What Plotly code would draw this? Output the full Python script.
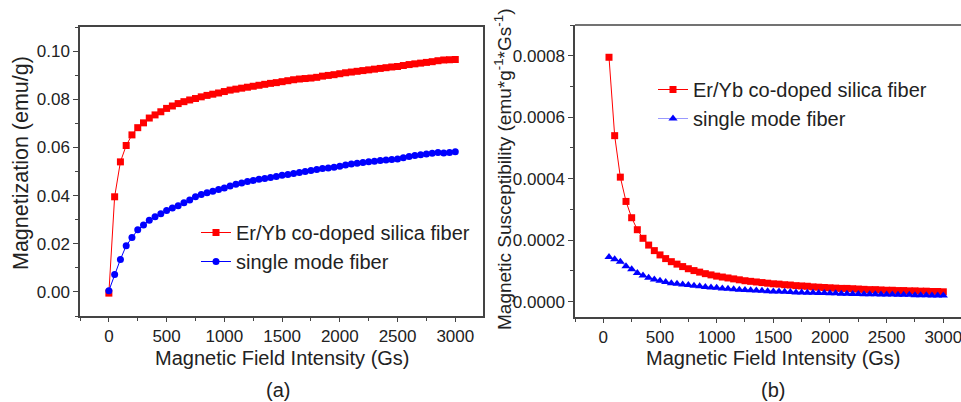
import plotly.graph_objects as go

# ---------------- data ----------------
field_a = list(range(0, 3001, 50))
mag_er = [-0.0005, 0.0395, 0.0540, 0.0608, 0.0652, 0.0682, 0.0702, 0.0722, 0.0735, 0.0748,
          0.0762, 0.0772, 0.0782, 0.0790, 0.0797, 0.0803, 0.0810, 0.0816, 0.0821, 0.0826,
          0.0832, 0.0838, 0.0842, 0.0846, 0.0850, 0.0854, 0.0858, 0.0862, 0.0866, 0.0869,
          0.0873, 0.0877, 0.0881, 0.0884, 0.0886, 0.0888, 0.0891, 0.0896, 0.0899, 0.0902,
          0.0906, 0.0910, 0.0913, 0.0916, 0.0919, 0.0922, 0.0925, 0.0928, 0.0931, 0.0934,
          0.0936, 0.0940, 0.0944, 0.0947, 0.0950, 0.0953, 0.0956, 0.0960, 0.0963, 0.0964,
          0.0965]
mag_smf = [0.0005, 0.0072, 0.0135, 0.0192, 0.0226, 0.0258, 0.0278, 0.0298, 0.0312, 0.0325,
           0.0338, 0.0348, 0.0358, 0.0370, 0.0382, 0.0395, 0.0405, 0.0412, 0.0418, 0.0425,
           0.0432, 0.0440, 0.0447, 0.0452, 0.0458, 0.0463, 0.0468, 0.0471, 0.0475, 0.0479,
           0.0484, 0.0488, 0.0492, 0.0496, 0.0500, 0.0504, 0.0508, 0.0512, 0.0515, 0.0518,
           0.0522, 0.0527, 0.0531, 0.0534, 0.0537, 0.0540, 0.0543, 0.0546, 0.0548, 0.0550,
           0.0552, 0.0557, 0.0562, 0.0566, 0.0570, 0.0573, 0.0576, 0.0579, 0.0577, 0.0579,
           0.0582]

field_b = list(range(50, 3001, 50))
sus_er = [7.95e-4, 5.40e-4, 4.05e-4, 3.26e-4, 2.73e-4, 2.34e-4, 2.06e-4, 1.84e-4, 1.66e-4, 1.52e-4,
          1.40e-4, 1.30e-4, 1.22e-4, 1.14e-4, 1.07e-4, 1.01e-4, 0.96e-4, 0.91e-4, 0.87e-4, 0.83e-4,
          0.80e-4, 0.77e-4, 0.74e-4, 0.71e-4, 0.68e-4, 0.66e-4, 0.64e-4, 0.62e-4, 0.60e-4, 0.58e-4,
          0.57e-4, 0.55e-4, 0.54e-4, 0.52e-4, 0.51e-4, 0.50e-4, 0.48e-4, 0.47e-4, 0.46e-4, 0.45e-4,
          0.44e-4, 0.43e-4, 0.43e-4, 0.42e-4, 0.41e-4, 0.40e-4, 0.39e-4, 0.39e-4, 0.38e-4, 0.37e-4,
          0.37e-4, 0.36e-4, 0.36e-4, 0.35e-4, 0.35e-4, 0.34e-4, 0.34e-4, 0.33e-4, 0.33e-4, 0.32e-4]
sus_smf = [1.45e-4, 1.38e-4, 1.30e-4, 1.15e-4, 1.05e-4, 0.93e-4, 0.85e-4, 0.78e-4, 0.72e-4, 0.68e-4,
           0.64e-4, 0.60e-4, 0.58e-4, 0.56e-4, 0.54e-4, 0.52e-4, 0.50e-4, 0.48e-4, 0.46e-4, 0.45e-4,
           0.43e-4, 0.42e-4, 0.40e-4, 0.39e-4, 0.38e-4, 0.37e-4, 0.36e-4, 0.35e-4, 0.34e-4, 0.33e-4,
           0.33e-4, 0.32e-4, 0.31e-4, 0.30e-4, 0.30e-4, 0.29e-4, 0.29e-4, 0.28e-4, 0.28e-4, 0.27e-4,
           0.27e-4, 0.26e-4, 0.26e-4, 0.25e-4, 0.25e-4, 0.24e-4, 0.24e-4, 0.24e-4, 0.23e-4, 0.23e-4,
           0.23e-4, 0.22e-4, 0.22e-4, 0.22e-4, 0.21e-4, 0.21e-4, 0.21e-4, 0.20e-4, 0.20e-4, 0.20e-4]

name_er = "Er/Yb co-doped silica fiber"
name_smf = "single mode fiber"
x_title = "Magnetic Field Intensity (Gs)"
y_title_a = "Magnetization (emu/g)"
y_title_b = "Magnetic Susceptibility (emu*g<sup>-1</sup>*Gs<sup>-1</sup>)"
x_ticks = [0, 500, 1000, 1500, 2000, 2500, 3000]

# ---------------- figure ----------------
W, H = 961, 402
FONT = "Liberation Sans, Arial, sans-serif"
RED = "#ff0000"
BLUE = "#0000ff"

fig = go.Figure()
fig.add_trace(go.Scatter(x=field_a, y=mag_er, name=name_er, mode="lines+markers",
                         line=dict(color=RED, width=1),
                         marker=dict(symbol="square", size=7, color=RED),
                         xaxis="x", yaxis="y", legend="legend"))
fig.add_trace(go.Scatter(x=field_a, y=mag_smf, name=name_smf, mode="lines+markers",
                         line=dict(color=BLUE, width=1),
                         marker=dict(symbol="circle", size=7, color=BLUE),
                         xaxis="x", yaxis="y", legend="legend"))
fig.add_trace(go.Scatter(x=field_b, y=sus_er, name=name_er, mode="lines+markers",
                         line=dict(color=RED, width=1),
                         marker=dict(symbol="square", size=7, color=RED),
                         xaxis="x2", yaxis="y2", legend="legend2"))
fig.add_trace(go.Scatter(x=field_b, y=sus_smf, name=name_smf, mode="lines+markers",
                         line=dict(color="#9999ff", width=1),
                         marker=dict(symbol="triangle-up", size=8, color=BLUE),
                         xaxis="x2", yaxis="y2", legend="legend2"))

def px(x):
    return x / W

def py(y):
    return 1 - y / H

axis_common = dict(
    showgrid=False, zeroline=False, showline=True, linecolor="#444", linewidth=1.5,
    ticks="outside", tickwidth=1.2, tickcolor="#444",
    tickfont=dict(family=FONT, size=17, color="#222"),
    ticklabeloverflow="allow",
)
minor_x = dict(ticks="outside", ticklen=3, tickcolor="#444", dtick=250, tick0=-250)

fig.update_layout(
    width=W, height=H,
    margin=dict(l=0, r=0, t=0, b=0),
    paper_bgcolor="white", plot_bgcolor="white",
    font=dict(family=FONT, color="#222"),
    xaxis=dict(domain=[px(80), px(483)], range=[-250, 3240], anchor="y", ticklen=4,
               tickvals=x_ticks, mirror=True, minor=minor_x, **axis_common),
    yaxis=dict(domain=[py(316), py(27)], range=[-0.01, 0.11], anchor="x", ticklen=5,
               dtick=0.02, tick0=0, tickformat=".2f", mirror=True,
               minor=dict(ticks="outside", ticklen=3, tickcolor="#444", dtick=0.01),
               **axis_common),
    xaxis2=dict(domain=[px(575), 1.0], range=[-250, 3156], anchor="y2", ticklen=4,
                tickvals=x_ticks, mirror=False, minor=minor_x, **axis_common),
    yaxis2=dict(domain=[py(317), py(25)], range=[-0.00005, 0.0009], anchor="x2", ticklen=5,
                dtick=0.0002, tick0=0, tickformat=".4f", mirror=False,
                minor=dict(ticks="outside", ticklen=3, tickcolor="#444", dtick=0.0001),
                **axis_common),
    legend=dict(x=px(196), y=py(213), xanchor="left", yanchor="top",
                bgcolor="rgba(0,0,0,0)", font=dict(family=FONT, size=20, color="#222"),
                itemwidth=30, tracegroupgap=0),
    legend2=dict(x=px(653), y=py(70), xanchor="left", yanchor="top",
                 bgcolor="rgba(0,0,0,0)", font=dict(family=FONT, size=20, color="#222"),
                 itemwidth=30, tracegroupgap=0),
    showlegend=True,
)

# top border line of panel (b) (no right border visible in reference)
fig.add_shape(type="line", xref="paper", yref="paper",
              x0=px(575), x1=1.0, y0=py(25), y1=py(25),
              line=dict(color="#444", width=1.5))

ann_font = dict(family=FONT, size=20, color="#222")
annotations = [
    dict(text=x_title, x=px(282), y=py(358), showarrow=False, font=ann_font,
         xanchor="center", yanchor="middle"),
    dict(text=x_title, x=px(773), y=py(358), showarrow=False, font=ann_font,
         xanchor="center", yanchor="middle"),
    dict(text=y_title_a, x=px(21), y=py(163), showarrow=False,
         font=dict(family=FONT, size=21.5, color="#222"),
         textangle=-90, xanchor="center", yanchor="middle"),
    dict(text=y_title_b, x=px(503), y=py(170), showarrow=False,
         font=dict(family=FONT, size=19, color="#222"),
         textangle=-90, xanchor="center", yanchor="middle"),
    dict(text="(a)", x=px(278), y=py(390), showarrow=False, font=ann_font,
         xanchor="center", yanchor="middle"),
    dict(text="(b)", x=px(773), y=py(390), showarrow=False, font=ann_font,
         xanchor="center", yanchor="middle"),
]
for a in annotations:
    a["xref"] = "paper"
    a["yref"] = "paper"
fig.update_layout(annotations=annotations)

fig.write_html("out.html")
